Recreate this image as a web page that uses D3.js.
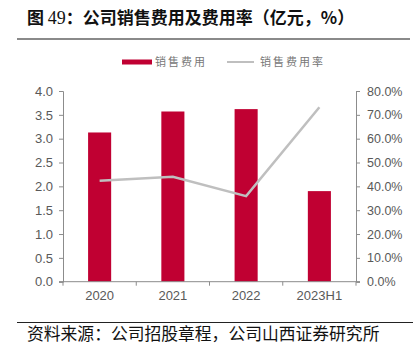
<!DOCTYPE html>
<html><head><meta charset="utf-8">
<script src="https://cdn.jsdelivr.net/npm/d3@7"></script>
<style>body{margin:0;background:#fff}svg{display:block}</style>
</head><body>
<svg id="c" width="413" height="356"></svg>
<script>
const categories = ["2020","2021","2022","2023H1"];
const salesExpense = [3.13, 3.57, 3.62, 1.90];
const expenseRate = [42.4, 44.0, 35.9, 73.2];
const leftTicks = [0,0.5,1.0,1.5,2.0,2.5,3.0,3.5,4.0];
const rightTicks = [0,10,20,30,40,50,60,70,80];
const seriesNames = ["销售费用","销售费用率"];
const titleParts = ["图 ","49","：公司销售费用及费用率（亿元，%）"];
const sourceText = "资料来源：公司招股章程，公司山西证券研究所";

const svg = d3.select("#c");
const L = 63, R = 356, T = 91, B = 281.7;
const x = d3.scaleBand().domain(categories).range([L,R]).paddingInner(0.685).paddingOuter(0.3425);
const yL = d3.scaleLinear().domain([0,4]).range([B,T]);
const yR = d3.scaleLinear().domain([0,80]).range([B,T]);
const axisColor = "#8c8c8c", textColor = "#595959";
const numFont = "'Liberation Sans', Arial, sans-serif";
const cjk = "'Noto Sans CJK SC', sans-serif";

// title
const tt = svg.append("text").attr("x",27).attr("y",24).attr("font-family",cjk)
  .attr("font-size",17).attr("font-weight",600).attr("fill","#111");
tt.append("tspan").text(titleParts[0]);
tt.append("tspan").attr("font-family","'Liberation Serif', serif").attr("font-weight","normal").attr("font-size",18).text(titleParts[1]);
tt.append("tspan").text(titleParts[2]);
svg.append("line").attr("x1",17).attr("x2",410).attr("y1",39).attr("y2",39).attr("stroke","#8a8a8a").attr("stroke-width",2);

// legend
svg.append("rect").attr("x",122).attr("y",59.5).attr("width",30).attr("height",5).attr("fill","#c00032");
svg.append("text").attr("x",155).attr("y",66).attr("font-family",cjk)
  .attr("font-size",11).attr("fill","#777").attr("letter-spacing",2).text(seriesNames[0]);
svg.append("line").attr("x1",227).attr("x2",254).attr("y1",62).attr("y2",62).attr("stroke","#bfbfbf").attr("stroke-width",2);
svg.append("text").attr("x",260).attr("y",66).attr("font-family",cjk)
  .attr("font-size",11).attr("fill","#777").attr("letter-spacing",2).text(seriesNames[1]);

// bars
svg.append("g").selectAll("rect").data(categories).join("rect")
  .attr("x",d=>x(d)).attr("width",x.bandwidth())
  .attr("y",(d,i)=>yL(salesExpense[i])).attr("height",(d,i)=>B-yL(salesExpense[i]))
  .attr("fill","#c00032");

// line
const line = d3.line().x((d,i)=>x(categories[i])+x.bandwidth()/2).y(d=>yR(d));
svg.append("path").datum(expenseRate).attr("d",line).attr("fill","none")
  .attr("stroke","#bfbfbf").attr("stroke-width",2.5);

function styleAxis(g){
  g.select(".domain").attr("stroke",axisColor);
  g.selectAll(".tick line").attr("stroke",axisColor);
  g.selectAll("text").attr("fill",textColor).attr("font-family",numFont).attr("font-size",13);
}
// left axis
const gl = svg.append("g").attr("transform",`translate(${L},0)`)
  .call(d3.axisLeft(yL).tickValues(leftTicks).tickFormat(d3.format(".1f")).tickSize(4).tickSizeOuter(4).tickPadding(6));
styleAxis(gl);
// right axis
const gr = svg.append("g").attr("transform",`translate(${R},0)`)
  .call(d3.axisRight(yR).tickValues(rightTicks).tickFormat(d=>d.toFixed(1)+"%").tickSize(4).tickSizeOuter(4).tickPadding(7));
styleAxis(gr);
gr.selectAll("text").attr("font-size",12.5);
// bottom axis
const xb = d3.scaleLinear().domain([0,4]).range([L,R]);
const gb = svg.append("g").attr("transform",`translate(0,${B})`);
gb.append("line").attr("x1",L-4).attr("x2",R+4).attr("y1",0).attr("y2",0).attr("stroke",axisColor);
gb.selectAll(".t").data(d3.range(0,5)).join("line").attr("x1",d=>xb(d)).attr("x2",d=>xb(d)).attr("y1",0).attr("y2",4).attr("stroke",axisColor);
gb.selectAll("text").data(categories).join("text").attr("x",d=>x(d)+x.bandwidth()/2).attr("y",18.5)
  .attr("text-anchor","middle").attr("fill",textColor).attr("font-family",numFont).attr("font-size",13).text(d=>d);

// source
svg.append("line").attr("x1",17).attr("x2",413).attr("y1",322.5).attr("y2",322.5).attr("stroke","#222").attr("stroke-width",1);
svg.append("text").attr("x",27).attr("y",340).attr("font-family",cjk)
  .attr("font-size",16.8).attr("fill","#111").text(sourceText);
</script>
</body></html>
